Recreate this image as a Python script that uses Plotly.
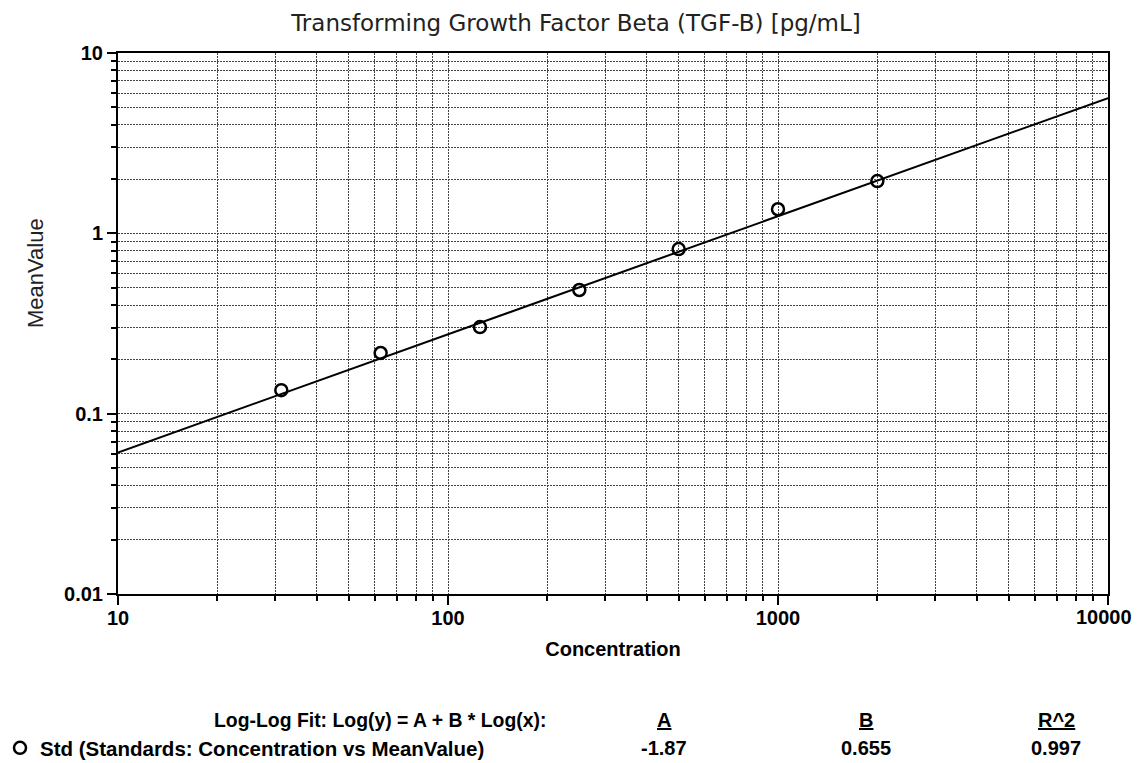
import numpy as np
import plotly.graph_objects as go

# Data
concentration = [31.25, 62.5, 125, 250, 500, 1000, 2000]
mean_value = [0.135, 0.217, 0.302, 0.485, 0.818, 1.36, 1.95]

fit_A = -1.87
fit_B = 0.655
fit_R2 = 0.997
fit_x = [10, 10000]
fit_y = [10 ** (fit_A + fit_B * np.log10(v)) for v in fit_x]

x_ticks = [10, 100, 1000, 10000]
x_ticktext = ["10", "100", "1000", "10000"]
y_ticks = [0.01, 0.1, 1, 10]
y_ticktext = ["0.01", "0.1", "1", "10"]

x_minor = [m * d for d in [10, 100, 1000] for m in range(2, 10)]
y_minor = [m * d for d in [0.01, 0.1, 1] for m in range(2, 10)]

title_text = "Transforming Growth Factor Beta (TGF-B) [pg/mL]"
legend_name = "Std (Standards: Concentration vs MeanValue)"
fit_label = "Log-Log Fit: Log(y) = A + B * Log(x):"

# The page body adds an 8px offset; work in reference pixels minus that offset
OFF = 8
W, H = 1141 - OFF, 763 - OFF
L, T = 118 - OFF, 53 - OFF
pw, ph = 990, 541
R = W - L - pw
B = H - T - ph

fig = go.Figure()
fig.add_trace(go.Scatter(
    x=fit_x, y=fit_y, mode="lines",
    line=dict(color="black", width=2), showlegend=False, hoverinfo="skip"))
fig.add_trace(go.Scatter(
    x=concentration, y=mean_value, mode="markers", name=legend_name,
    marker=dict(symbol="circle-open", size=12, color="black",
                line=dict(color="black", width=2.5))))

grid_col = "#444444"
grid_dash = "2px,1px"
tick_font = dict(family="Liberation Sans", size=20, color="black", weight="bold")

# last x label is drawn separately, right-aligned to the page edge as in the reference
x_ticktext_shown = x_ticktext[:-1] + [""]

fig.update_xaxes(
    type="log", range=[1, 4],
    tickvals=x_ticks, ticktext=x_ticktext_shown, tickfont=tick_font,
    ticks="outside", ticklen=9, tickwidth=2, tickcolor="black",
    ticklabelstandoff=-4,
    showline=True, linecolor="black", linewidth=2, mirror=True,
    showgrid=True, gridcolor=grid_col, griddash=grid_dash, gridwidth=1,
    minor=dict(tickvals=x_minor, ticks="outside", ticklen=5, tickwidth=2,
               tickcolor="black", showgrid=True, gridcolor=grid_col,
               griddash=grid_dash, gridwidth=1),
    title=dict(text="<b>Concentration</b>",
               font=dict(family="Liberation Sans", size=20, color="black"),
               standoff=14),
    zeroline=False,
)
fig.update_yaxes(
    type="log", range=[-2, 1],
    tickvals=y_ticks, ticktext=y_ticktext, tickfont=tick_font,
    ticks="outside", ticklen=9, tickwidth=2, tickcolor="black",
    showline=True, linecolor="black", linewidth=2, mirror=True,
    showgrid=True, gridcolor=grid_col, griddash=grid_dash, gridwidth=1,
    minor=dict(tickvals=y_minor, ticks="outside", ticklen=5, tickwidth=2,
               tickcolor="black", showgrid=True, gridcolor=grid_col,
               griddash=grid_dash, gridwidth=1),
    zeroline=False,
)

def to_paper(px, py):
    return (px - OFF - L) / pw, ((H - (py - OFF)) - B) / ph

# the last x tick label
lx, ly = to_paper(1134, 617)
fig.add_annotation(
    text=x_ticktext[-1], x=lx, y=ly, xref="paper", yref="paper",
    xanchor="right", yanchor="middle", showarrow=False, font=tick_font)

ann_font = dict(family="Liberation Sans", size=20, color="black", weight="bold")
annotations = [
    (fit_label, 548, 720, "right", 19.4),
    ("<u>A</u>", 664, 720, "center", 20),
    ("<u>B</u>", 866, 720, "center", 20),
    ("<u>R^2</u>", 1056, 720, "center", 20),
    (f"{fit_A:.2f}", 664, 748, "center", 20),
    (f"{fit_B:.3f}", 866, 748, "center", 20),
    (f"{fit_R2:.3f}", 1056, 748, "center", 20),
]
for text, px, py, anc, fs in annotations:
    ax, ay = to_paper(px, py)
    fig.add_annotation(
        text=text, x=ax, y=ay, xref="paper", yref="paper",
        xanchor=anc, yanchor="middle", showarrow=False,
        font=dict(ann_font, size=fs))

# y-axis title
yx, yy = to_paper(35, 273)
fig.add_annotation(
    text="MeanValue", x=yx, y=yy, xref="paper", yref="paper",
    xanchor="center", yanchor="middle", textangle=-90, showarrow=False,
    font=dict(family="Liberation Sans", size=22, color="#222222"))

fig.update_layout(
    width=W, height=H,
    margin=dict(l=L, r=R, t=T, b=B, autoexpand=False),
    paper_bgcolor="white", plot_bgcolor="white",
    title=dict(text=title_text, x=(576 - OFF) / W, xanchor="center",
               y=1 - (23 - OFF) / H, yanchor="middle",
               font=dict(family="DejaVu Sans", size=23, color="#222222")),
    showlegend=True,
    legend=dict(xref="container", yref="container", x=0,
                y=(H - (748 - OFF)) / H,
                xanchor="left", yanchor="middle", indentation=-8,
                font=dict(family="Liberation Sans", size=20.5, color="black",
                          weight="bold"),
                bgcolor="rgba(0,0,0,0)", itemwidth=30),
)

fig.write_html("out.html")
